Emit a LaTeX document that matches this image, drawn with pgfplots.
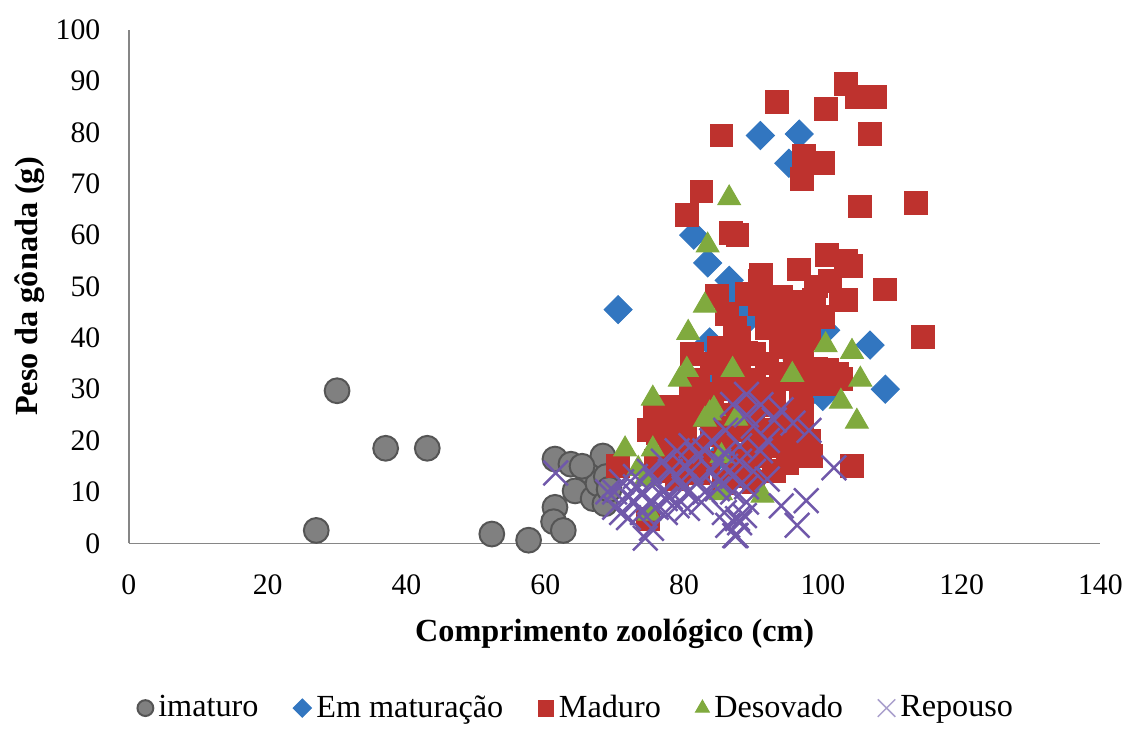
\documentclass[border=0pt]{standalone}
\usepackage{fontspec}
\setmainfont{Liberation Serif}
\usepackage{pgfplots}
\pgfplotsset{compat=1.18}
\definecolor{cgrey}{RGB}{128,128,128}
\definecolor{cgreyd}{RGB}{85,85,85}
\definecolor{cblue}{RGB}{50,118,192}
\definecolor{cred}{RGB}{190,50,46}
\definecolor{cgreen}{RGB}{128,170,62}
\definecolor{cpurple}{RGB}{112,88,170}
\definecolor{clav}{RGB}{170,160,205}
\definecolor{caxis}{RGB}{134,134,134}
\begin{document}
\begin{tikzpicture}
\begin{axis}[
  scale only axis, width=392pt, height=207.2pt,
  xmin=0, xmax=140, ymin=0, ymax=100,
  xtick={0,20,...,140}, ytick={0,10,...,100},
  axis x line*=bottom, axis y line*=left,
  axis line style={draw=caxis, line width=0.6pt},
  major tick length=0pt, tick style={draw=none},
  /pgf/number format/assume math mode=true,
  tick label style={font=\fontsize{12}{14}\selectfont},
  yticklabel style={xshift=-8pt},
  xticklabel style={yshift=-9pt},
  xlabel={Comprimento zoológico (cm)},
  ylabel={Peso da gônada (g)},
  label style={font=\bfseries\fontsize{13}{15}\selectfont},
  xlabel style={at={([yshift=-36.5pt]axis description cs:0.5,0)}, anchor=center},
  ylabel style={at={([xshift=-40pt]axis description cs:0,0.5)}, anchor=center},
  legend columns=5,
  legend style={at={([yshift=-66.5pt]axis description cs:0.462,0)}, anchor=center,
    draw=none, font=\fontsize{13}{15}\selectfont,
    /tikz/every even column/.style={column sep=12pt}},
  legend image code/.code={\draw[#1,mark size=3.2pt] plot coordinates {(0.1cm,0cm)};},
]
% imaturo
\addplot[only marks, mark=*, mark size=5pt, mark options={fill=cgrey, draw=cgreyd, line width=0.8pt}]
coordinates {
(27,2.5)(30,29.7)(37,18.5)(43,18.5)(52.3,1.8)(57.6,0.6)(61.4,16.4)(63.7,15.4)
(61.4,7)(61.2,4.2)(62.6,2.5)(64.3,10.2)(66.3,14.1)(66.9,8.7)(67.6,11.6)(68.3,17)
(68.6,7.7)(65.3,15)(68.8,13)(69.2,10.5)
};
\addlegendentry{imaturo}
% Em maturacao
\addplot[only marks, mark=square*, mark size=4pt, mark options={rotate=45, fill=cblue, draw=cblue},
  legend image code/.code={\draw[mark=square*, mark options={rotate=45, fill=cblue, draw=cblue}, mark size=2.6pt] plot coordinates {(0.1cm,0cm)};}]
coordinates {
(70.5,45.5)(81.4,60)(83.4,54.6)(86.5,51.2)(86.8,48.8)(91,79.4)(96.6,79.7)(95.1,74)
(83.7,39.2)(106.8,38.6)(109,30)(100,28.6)(94,21.4)(88.6,45.4)(82,25.7)(96.3,35.7)
(100.4,41.5)(89.5,44)(84,31)(87,18)(79,21)(93.3,21.8)(96,20)(90,13)(85,17)(98,29)(88,36)
};
\addlegendentry{Em maturação}
% Maduro
\addplot[only marks, mark=square*, mark size=4.6pt, mark options={fill=cred, draw=cred}]
coordinates {
(93.4,86)(100.4,84.5)(103.3,89.4)(104.9,86.9)(107.6,86.9)(106.8,79.7)(85.4,79.4)
(97.3,75.5)(100.1,74)(97,71)(82.5,68.5)(80.4,64)(105.4,65.6)(113.4,66.2)(86.8,60.4)
(87.7,60)(100.6,56.2)(103.3,55)(96.6,53.3)(91.1,52.3)(109,49.4)(84.8,48.2)(114.4,40.2)
(104.2,15)(98.3,17)(96.8,18.3)
(91,51)(99,50)(93,48)(89,48.5)(103.4,47.3)(86.2,44.6)(91,46.5)(95.4,45.4)(98.7,47.3)
(102.6,47.3)(87.3,42)(92,42)(81.1,36.9)(85.4,35)(90.1,36.9)(94,38.2)(100.6,33.8)
(102.6,32)(96.8,28)(93,27.2)(89,22.8)(75.8,25.3)(76.2,21.4)(80.1,21.4)(78.1,18.3)
(70.5,15)(74.8,4.8)(83.4,15.6)(87.3,15)(91,17)(94.3,19)(94.9,15.6)(85.8,11.8)(82,13.7)
(79,12.5)(78.1,26.6)(82,31.9)(85.8,30.5)(90.1,31.9)(92,35)(96,42)(97,44)(95,40)(93,44)
(100,44)(101,51)(104,54)(98,31)(95,25)(97,26)(99,34)(88,40)(89,37)(88,34)(87,30)(90,26)
(87,25)(84,25)(83,26)(82,28)(84,21)(86,20)(88,22)(90,20)(92,22)(89,16)(88,13)(90,12)
(93,14)(91,30)(93,30)(94,33)(96,36)(85,38)(84,35)(86,36)(80,20)(78,23)(76,16)(75,22)
(77,14)(81,25)(101,31)(102,33)(98,40)(97,37)(96,47)(94,48)(92,45)(91,47)(96,32)(92,27)
(80,17)(82,18)(86,24)(88,28)(84,29)(81,29)(95,21)(97,22)(98,20)(96,17)
};
\addlegendentry{Maduro}
% Desovado
\addplot[only marks, mark=triangle*, mark size=5.3pt, mark options={fill=cgreen, draw=cgreen}]
coordinates {
(86.5,67.2)(83.4,58)(83,46.3)(80.6,41)(80.4,33.8)(75.5,28.2)(71.5,18.3)(75.5,18.3)
(73.4,14.5)(87,33.8)(83.7,25.3)(87.5,24.3)(95.6,32.8)(100.4,38.6)(104.2,37.3)
(105.4,31.9)(102.6,27.6)(104.9,23.7)(91.3,9.3)(75,5.8)(85.4,17)(79.4,31.9)(84.3,26.2)
(74.4,12.5)(85.3,9.8)(83,24.1)
};
\addlegendentry{Desovado}
% Repouso
\addplot[only marks, mark=x, mark size=7pt, mark options={draw=cpurple, line width=1pt},
  legend image code/.code={\draw[mark=x, mark options={draw=clav, line width=0.6pt}, mark size=5pt] plot coordinates {(0.1cm,0cm)};}]
coordinates {
(101.6,14.7)(97.6,8.3)(96.3,3.5)(94,7.3)(92,12.5)(88.7,5.4)(87.5,1.5)(86.3,3.5)(88,4)
(85.8,6)(80.5,6.8)(61.5,13.7)(71,6)(70,7)(74.4,1)(75.3,2.9)(72.9,8)(77.3,8.7)(79,7.3)
(80.5,9.8)(87.7,4.8)(87.3,1.5)(77.3,6)(82.5,8)(84.8,10.6)(85.8,17.6)(90,22.8)(91.1,27)
(89,29)(70,10)(71,12)(72,9)(73,11)(74,10)(75,8)(76,12)(77,10)(78,9)(79,13)(80,11)
(81,14)(82,12)(83,10)(84,14)(85,12)(86,15)(87,13)(88,16)(89,11)(90,14)(91,18)(92,20)
(93,24)(94,26)(84,20)(86,22)(88,19)(82,17)(80,15)(78,14)(76,7)(74,6)(72,5)(69,10)
(83,18)(85,16)(87,10)(89,8)(73,13)(75,14)(77,16)(79,18)(81,19)(95.7,23.4)(98,22)
(89,25)(87,27)
};
\addlegendentry{Repouso}
\end{axis}
\path ([xshift=-52pt,yshift=-69.6pt]current axis.south west) rectangle ([xshift=8.4pt,yshift=12pt]current axis.north east);
\end{tikzpicture}
\end{document}
